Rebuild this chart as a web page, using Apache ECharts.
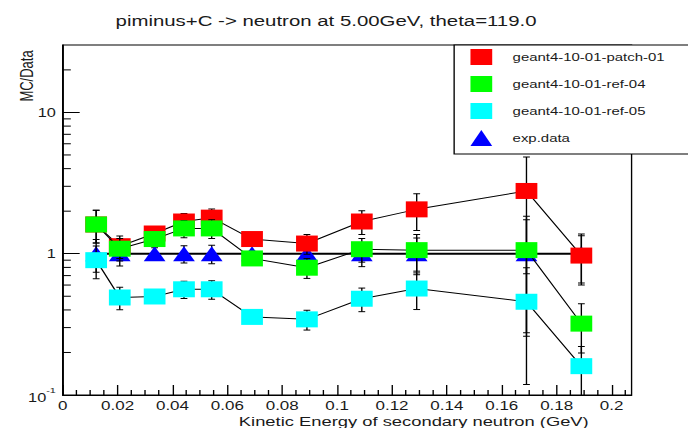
<!DOCTYPE html>
<html>
<head>
<meta charset="utf-8">
<script src="https://cdn.jsdelivr.net/npm/echarts@6/dist/echarts.min.js"></script>
<style>
  html, body { margin: 0; padding: 0; background: #fff; overflow: hidden; }
  /* the canvas is drawn narrow and widened, like the wide-pixel original */
  #chart { width: 506px; height: 428px; transform: scaleX(1.3597); transform-origin: 0 0; }
</style>
</head>
<body>
<div id="chart"></div>
<script>
// Kinetic energy of the secondary neutron (GeV)
const energy = [0.0122, 0.0208, 0.0335, 0.0442, 0.0543, 0.069, 0.089, 0.109, 0.129, 0.169, 0.189];
// MC / Data ratios
const patch01 = [1.61, 1.13, 1.39, 1.69, 1.80, 1.27, 1.18, 1.69, 2.06, 2.78, 0.97];
const ref04   = [1.61, 1.085, 1.27, 1.51, 1.51, 0.926, 0.796, 1.076, 1.06, 1.06, 0.32];
const ref05   = [0.90, 0.49, 0.498, 0.56, 0.56, 0.357, 0.343, 0.48, 0.567, 0.457, 0.16];
const expData = [1, 1, 1, 1, 1, 1, 1, 1, 1, 1, 1];
// relative uncertainty of the measurement at each energy
const relErr  = [0.26, 0.18, 0.10, 0.14, 0.15, 0.04, 0.16, 0.19, 0.29, 0.74, 0.38];

const seriesNames = ['geant4-10-01-patch-01', 'geant4-10-01-ref-04', 'geant4-10-01-ref-05', 'exp.data'];
const seriesColors = ['#ff0000', '#00ff00', '#00ffff', '#0000ff'];

// minor tick positions
const yMinorTicks = [0.2, 0.3, 0.4, 0.5, 0.6, 0.7, 0.8, 0.9, 2, 3, 4, 5, 6, 7, 8, 9, 20];
const xMinorTicks = [0.005, 0.01, 0.015, 0.025, 0.03, 0.035, 0.045, 0.05, 0.055, 0.065, 0.07, 0.075,
  0.085, 0.09, 0.095, 0.105, 0.11, 0.115, 0.125, 0.13, 0.135, 0.145, 0.15, 0.155,
  0.165, 0.17, 0.175, 0.185, 0.19, 0.195, 0.205];

const FONT = "'Liberation Sans', Arial, Helvetica, sans-serif";
const INK = '#1a1a1a';

function points(vals) {
  return energy.map((e, i) => [e, vals[i]]);
}
function errorData(vals) {
  return energy.map((e, i) => [e, vals[i] * (1 - relErr[i]), vals[i] * (1 + relErr[i])]);
}
function renderErrorBar(params, api) {
  const x = api.value(0);
  const lo = api.coord([x, api.value(1)]);
  const hi = api.coord([x, api.value(2)]);
  const cap = 2.5;
  const st = { stroke: '#000', lineWidth: 1 };
  return {
    type: 'group',
    children: [
      { type: 'line', shape: { x1: hi[0], y1: hi[1], x2: lo[0], y2: lo[1] }, style: st },
      { type: 'line', shape: { x1: hi[0] - cap, y1: hi[1], x2: hi[0] + cap, y2: hi[1] }, style: st },
      { type: 'line', shape: { x1: lo[0] - cap, y1: lo[1], x2: lo[0] + cap, y2: lo[1] }, style: st }
    ]
  };
}
function errorSeries(vals, z) {
  return {
    type: 'custom', silent: true, z: z, clip: true,
    data: errorData(vals), encode: { x: 0, y: [1, 2] },
    renderItem: renderErrorBar
  };
}
function graphSeries(name, vals, color, symbol, size, z, lineWidth) {
  return {
    type: 'line', name: name, z: z, silent: true,
    data: points(vals),
    symbol: symbol, symbolSize: size, showSymbol: true,
    itemStyle: { color: color, borderWidth: 0 },
    lineStyle: { color: '#000', width: lineWidth },
    emphasis: { disabled: true }
  };
}

const chart = echarts.init(document.getElementById('chart'), null, { renderer: 'svg' });
chart.setOption({
  animation: false,
  backgroundColor: '#fff',
  title: {
    text: 'piminus+C -> neutron at 5.00GeV, theta=119.0',
    left: 85, top: 12, padding: 0,
    textStyle: { fontSize: 15, fontWeight: 'normal', color: INK, fontFamily: FONT, lineHeight: 18 }
  },
  grid: {
    left: 46.1, right: 41.5, top: 45, bottom: 33,
    show: true, borderColor: '#000', borderWidth: 1, backgroundColor: '#fff',
    containLabel: false, outerBoundsMode: 'none'
  },
  legend: {
    data: [
      { name: seriesNames[0], icon: 'rect' },
      { name: seriesNames[1], icon: 'rect' },
      { name: seriesNames[2], icon: 'rect' },
      { name: seriesNames[3], icon: 'triangle' }
    ],
    orient: 'vertical', left: 334, top: 45,
    itemWidth: 16, itemHeight: 16, itemGap: 11,
    padding: [4, 40, 8, 12],
    backgroundColor: '#fff', borderColor: '#000', borderWidth: 1, borderRadius: 0,
    selectedMode: false,
    textStyle: { fontSize: 11, color: INK, fontFamily: FONT, padding: [0, 0, 0, 10] }
  },
  xAxis: {
    type: 'value', min: 0, max: 0.2073, interval: 0.02,
    axisLine: { show: true, onZero: false, lineStyle: { color: '#000', width: 1 } },
    axisTick: { show: true, inside: true, length: 10, lineStyle: { color: '#000', width: 1 } },
    minorTick: { show: false },
    splitLine: { show: false },
    axisLabel: { fontSize: 12.5, color: INK, fontFamily: FONT, margin: 4, showMaxLabel: false },
    name: 'Kinetic Energy of secondary neutron (GeV)',
    nameLocation: 'middle', nameGap: 19, nameMoveOverlap: false,
    nameTextStyle: { fontSize: 13.5, color: INK, fontFamily: FONT, padding: [0, 0, 0, 98] }
  },
  yAxis: {
    type: 'log', logBase: 10, min: 0.1, max: 30,
    axisLine: { show: true, lineStyle: { color: '#000', width: 1 } },
    axisTick: { show: true, inside: true, length: 12.5, lineStyle: { color: '#000', width: 1 } },
    minorTick: { show: false },
    splitLine: { show: false },
    axisLabel: {
      margin: 5, showMaxLabel: false, color: INK, fontSize: 12, fontFamily: FONT,
      formatter: function (v) {
        if (v < 0.5) return '{b|10}{s|-1}';
        if (v < 5) return '1';
        return '10';
      },
      rich: {
        b: { fontSize: 12, lineHeight: 18, color: INK, fontFamily: FONT, verticalAlign: 'bottom' },
        s: { fontSize: 8, lineHeight: 8, color: INK, fontFamily: FONT, verticalAlign: 'top' }
      }
    },
    name: 'MC/Data', nameLocation: 'middle', nameRotate: 90, nameGap: 20, nameMoveOverlap: false,
    nameTextStyle: { fontSize: 13, color: INK, fontFamily: FONT, padding: [0, 0, 0, 288] }
  },
  series: [
    errorSeries(expData, 2),
    graphSeries(seriesNames[3], expData, seriesColors[3], 'triangle', [16, 15], 3, 2),
    errorSeries(patch01, 4),
    graphSeries(seriesNames[0], patch01, seriesColors[0], 'rect', 16, 5, 1),
    errorSeries(ref04, 6),
    graphSeries(seriesNames[1], ref04, seriesColors[1], 'rect', 16, 7, 1),
    errorSeries(ref05, 8),
    graphSeries(seriesNames[2], ref05, seriesColors[2], 'rect', 16, 9, 1),
    {
      type: 'custom', silent: true, z: 20, clip: false,
      data: yMinorTicks.map(v => [0, v]), encode: { x: 0, y: 1 },
      renderItem: function (params, api) {
        const c = api.coord([api.value(0), api.value(1)]);
        return { type: 'line', shape: { x1: c[0], y1: c[1], x2: c[0] + 6, y2: c[1] }, style: { stroke: '#000', lineWidth: 1 } };
      }
    },
    {
      type: 'custom', silent: true, z: 20, clip: false,
      data: xMinorTicks.map(v => [v, 0.1]), encode: { x: 0, y: 1 },
      renderItem: function (params, api) {
        const c = api.coord([api.value(0), api.value(1)]);
        return { type: 'line', shape: { x1: c[0], y1: c[1], x2: c[0], y2: c[1] - 5 }, style: { stroke: '#000', lineWidth: 1 } };
      }
    }
  ]
});
</script>
</body>
</html>
